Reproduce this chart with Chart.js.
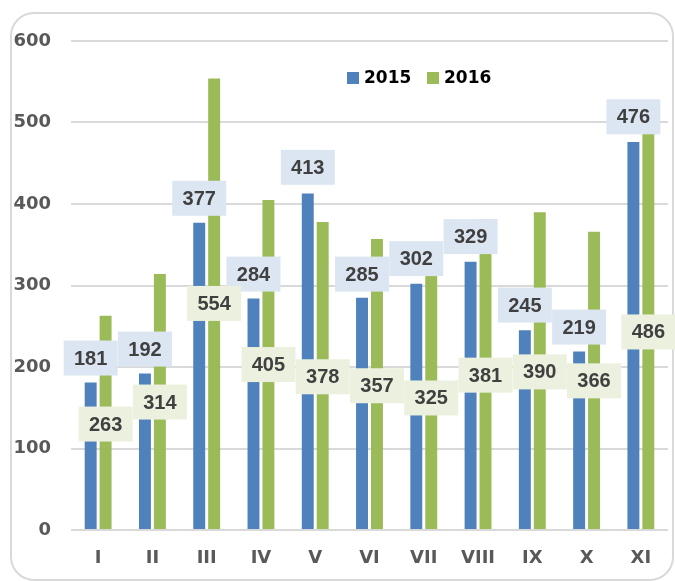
<!DOCTYPE html>
<html>
<head>
<meta charset="utf-8">
<script src="https://cdn.jsdelivr.net/npm/chart.js@4/dist/chart.umd.min.js"></script>
<style>
  html, body { margin: 0; padding: 0; background: #fff; }
  #wrap { position: relative; width: 675px; height: 581px; overflow: hidden; }
  #frame { position: absolute; left: 10px; top: 12px; width: 664px; height: 569px;
           box-sizing: border-box; border: 2px solid #d9d9d9; border-radius: 24px; }
  canvas { position: absolute; left: 0; top: 0; }
</style>
</head>
<body>
<div id="wrap">
  <div id="frame"></div>
  <canvas id="c" width="675" height="581"></canvas>
</div>
<script>
const categories = ["I", "II", "III", "IV", "V", "VI", "VII", "VIII", "IX", "X", "XI"];
const seriesNames = ["2015", "2016"];
const values2015 = [181, 192, 377, 284, 413, 285, 302, 329, 245, 219, 476];
const values2016 = [263, 314, 554, 405, 378, 357, 325, 381, 390, 366, 486];
// where each value label sits, in axis units (labels were placed by hand in the original)
const labelAt2015 = [211, 222, 407, 314, 445, 314, 333, 360, 276, 249, 507];
const labelAt2016 = [130, 157, 278, 203, 188, 177, 162, 190, 194, 183, 243];
const yTicks = [0, 100, 200, 300, 400, 500, 600];

const FONT = "'DejaVu Sans', sans-serif";
const LABEL_FONT = "'Liberation Sans', Arial, sans-serif";
const colors = ["#4f81bd", "#9bbb59"];
const labelBg = ["#dce6f2", "#ebf1de"];

const labelPlugin = {
  id: 'boxLabels',
  afterDatasetsDraw(chart) {
    const ctx = chart.ctx;
    const y = chart.scales.y;
    const anchors = [labelAt2015, labelAt2016];
    ctx.save();
    ctx.font = "bold 20px " + LABEL_FONT;
    ctx.textAlign = 'center';
    ctx.textBaseline = 'middle';
    chart.data.datasets.forEach((ds, di) => {
      const meta = chart.getDatasetMeta(di);
      meta.data.forEach((bar, i) => {
        const cx = bar.x;
        const cy = y.getPixelForValue(anchors[di][i]);
        const w = 54, h = 35;
        ctx.fillStyle = labelBg[di];
        ctx.fillRect(cx - w / 2, cy - h / 2, w, h);
        ctx.fillStyle = '#404040';
        ctx.fillText(String(ds.data[i]), cx, cy + 1);
      });
    });
    ctx.restore();
  }
};

const legendPlugin = {
  id: 'innerLegend',
  afterDraw(chart) {
    const ctx = chart.ctx;
    const a = chart.chartArea;
    ctx.save();
    ctx.font = "bold 17px " + FONT;
    ctx.textBaseline = 'middle';
    ctx.textAlign = 'left';
    let x = a.left + 276;
    const cy = a.top + 37;
    seriesNames.forEach((name, i) => {
      ctx.fillStyle = colors[i];
      ctx.fillRect(x, cy - 6, 12, 12);
      ctx.fillStyle = '#000';
      ctx.fillText(name, x + 17, cy + 1);
      x += 80;
    });
    ctx.restore();
  }
};

new Chart(document.getElementById('c'), {
  type: 'bar',
  data: {
    labels: categories,
    datasets: [
      { label: seriesNames[0], data: values2015, backgroundColor: colors[0] },
      { label: seriesNames[1], data: values2016, backgroundColor: colors[1] }
    ]
  },
  options: {
    responsive: false,
    animation: false,
    devicePixelRatio: 1,
    categoryPercentage: 0.55,
    barPercentage: 0.8,
    layout: { padding: { left: 0, right: 7, top: 41, bottom: 0 } },
    plugins: {
      legend: { display: false },
      tooltip: { enabled: false }
    },
    scales: {
      x: {
        grid: { display: false, drawTicks: false },
        border: { display: false },
        ticks: {
          color: '#595959',
          font: { family: FONT, size: 18, weight: 'bold' },
          padding: 18
        },
        afterFit(s) { s.height = 51; }
      },
      y: {
        min: 0, max: 600,
        afterBuildTicks(s) { s.ticks = yTicks.map(v => ({ value: v })); },
        grid: { color: '#d9d9d9', lineWidth: 2, drawTicks: false },
        border: { display: false },
        ticks: {
          color: '#595959',
          font: { family: FONT, size: 18, weight: 'bold' },
          padding: 20
        },
        afterFit(s) { s.width = 71; }
      }
    }
  },
  plugins: [labelPlugin, legendPlugin]
});
</script>
</body>
</html>
